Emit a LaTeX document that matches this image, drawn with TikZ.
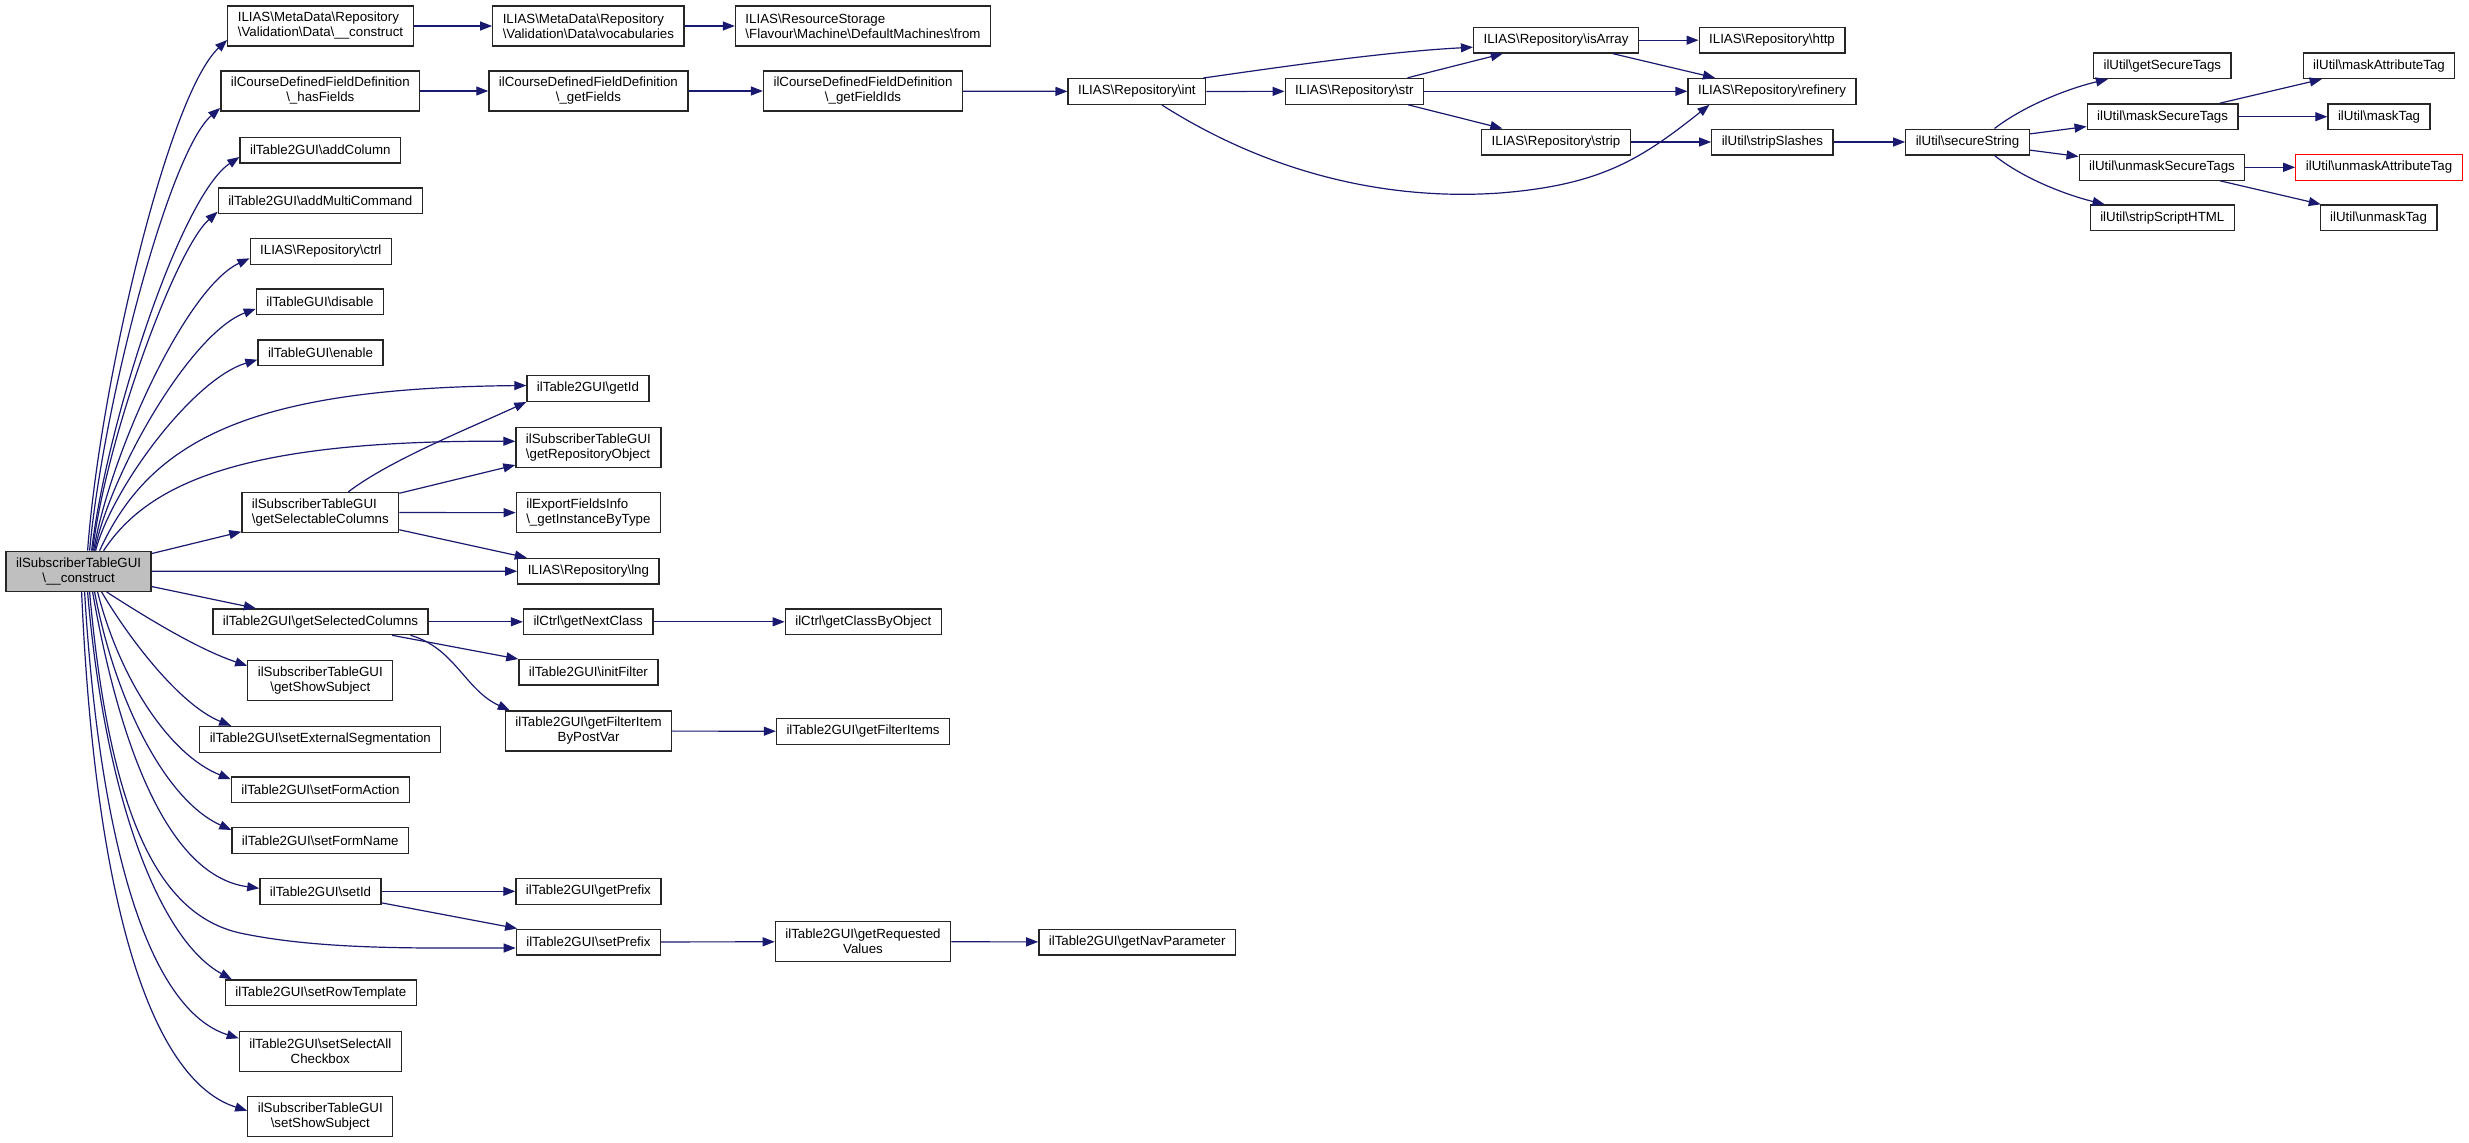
\documentclass[tikz,border=0pt]{standalone}
\usepackage{fontspec}
\setmainfont{Liberation Sans}
\usetikzlibrary{arrows.meta}
\definecolor{edgeblue}{RGB}{25,25,112}
\definecolor{rootgray}{RGB}{191,191,191}
\newcommand{\bsl}{\textbackslash}
\begin{document}
\begin{tikzpicture}[
  x=1pt, y=-1pt,
  fn/.style={rectangle, draw=black!85, line width=1.3pt, font=\fontsize{13.3}{15}\selectfont,
    inner xsep=10pt, inner ysep=2pt, minimum height=25.7pt},
  fnc/.style={fn, minimum height=40pt, align=center},
  fnl/.style={fn, minimum height=40pt, align=left},
  rootfn/.style={fnc, fill=rootgray},
  e/.style={draw=edgeblue, line width=1.2pt, -{Triangle[length=12pt,width=9pt]}}
]
\useasboundingbox (0,0) rectangle (2469,1143);
\fill[white] (0,0) rectangle (2469,1143);

% root
\node[rootfn] (root) at (78.6,571.3) {ilSubscriberTableGUI\\\bsl\_\_construct};

% first column
\node[fnl] (metaC) at (320.5,26) {ILIAS\bsl MetaData\bsl Repository\\\bsl Validation\bsl Data\bsl\_\_construct};
\node[fnc] (hasF) at (320.3,91) {ilCourseDefinedFieldDefinition\\\bsl\_hasFields};
\node[fn] (addCol) at (320.3,150) {ilTable2GUI\bsl addColumn};
\node[fn] (addMC) at (320.3,200.7) {ilTable2GUI\bsl addMultiCommand};
\node[fn] (ctrl) at (320.8,251.3) {ILIAS\bsl Repository\bsl ctrl};
\node[fn] (dis) at (320,301.8) {ilTableGUI\bsl disable};
\node[fn] (en) at (320.5,352.7) {ilTableGUI\bsl enable};
\node[fnl] (sel) at (320.3,512.5) {ilSubscriberTableGUI\\\bsl getSelectableColumns};
\node[fn] (selC) at (320.5,621.8) {ilTable2GUI\bsl getSelectedColumns};
\node[fnc] (showS) at (320.3,680.7) {ilSubscriberTableGUI\\\bsl getShowSubject};
\node[fn] (extSeg) at (320.3,739.3) {ilTable2GUI\bsl setExternalSegmentation};
\node[fn] (formA) at (320.5,789.7) {ilTable2GUI\bsl setFormAction};
\node[fn] (formN) at (320.3,840.5) {ilTable2GUI\bsl setFormName};
\node[fn] (setId) at (320.5,891.3) {ilTable2GUI\bsl setId};
\node[fn] (rowT) at (320.8,992.8) {ilTable2GUI\bsl setRowTemplate};
\node[fnc] (selAll) at (320.3,1051.3) {ilTable2GUI\bsl setSelectAll\\Checkbox};
\node[fnc] (setShow) at (320.3,1116.7) {ilSubscriberTableGUI\\\bsl setShowSubject};

% second column
\node[fnl] (metaV) at (588.4,26) {ILIAS\bsl MetaData\bsl Repository\\\bsl Validation\bsl Data\bsl vocabularies};
\node[fnc] (getF) at (588.4,91) {ilCourseDefinedFieldDefinition\\\bsl\_getFields};
\node[fn] (getId) at (588,388.5) {ilTable2GUI\bsl getId};
\node[fnl] (repo) at (588.4,447.3) {ilSubscriberTableGUI\\\bsl getRepositoryObject};
\node[fnl] (inst) at (588.4,512.7) {ilExportFieldsInfo\\\bsl\_getInstanceByType};
\node[fn] (lng) at (588.4,571.2) {ILIAS\bsl Repository\bsl lng};
\node[fn] (nextC) at (588.2,621.8) {ilCtrl\bsl getNextClass};
\node[fn] (initF) at (588.4,672.2) {ilTable2GUI\bsl initFilter};
\node[fnc] (fip) at (588.6,731) {ilTable2GUI\bsl getFilterItem\\ByPostVar};
\node[fn] (getPre) at (588.4,891.3) {ilTable2GUI\bsl getPrefix};
\node[fn] (setPre) at (588.4,942) {ilTable2GUI\bsl setPrefix};

% third column
\node[fnl] (from) at (863,26) {ILIAS\bsl ResourceStorage\\\bsl Flavour\bsl Machine\bsl DefaultMachines\bsl from};
\node[fnc] (getFI) at (863,91) {ilCourseDefinedFieldDefinition\\\bsl\_getFieldIds};
\node[fn] (classBO) at (863.3,621.8) {ilCtrl\bsl getClassByObject};
\node[fn] (fItems) at (863,731.3) {ilTable2GUI\bsl getFilterItems};
\node[fnc] (reqV) at (863,941.7) {ilTable2GUI\bsl getRequested\\Values};

% repository chain
\node[fn] (int) at (1136.9,91.5) {ILIAS\bsl Repository\bsl int};
\node[fn] (navP) at (1137.2,942) {ilTable2GUI\bsl getNavParameter};
\node[fn] (str) at (1354.3,91.3) {ILIAS\bsl Repository\bsl str};
\node[fn] (isArray) at (1556,40.2) {ILIAS\bsl Repository\bsl isArray};
\node[fn] (strip) at (1556,142) {ILIAS\bsl Repository\bsl strip};
\node[fn] (http) at (1772,40.2) {ILIAS\bsl Repository\bsl http};
\node[fn] (refinery) at (1772,91.3) {ILIAS\bsl Repository\bsl refinery};
\node[fn] (slashes) at (1772.4,142) {ilUtil\bsl stripSlashes};
\node[fn] (secure) at (1967.5,142) {ilUtil\bsl secureString};

% ilUtil
\node[fn] (getST) at (2162.3,65.7) {ilUtil\bsl getSecureTags};
\node[fn] (maskST) at (2162.6,116.7) {ilUtil\bsl maskSecureTags};
\node[fn] (unmaskST) at (2162,167.3) {ilUtil\bsl unmaskSecureTags};
\node[fn] (stripSH) at (2162.3,217.8) {ilUtil\bsl stripScriptHTML};
\node[fn] (maskAT) at (2379,65.7) {ilUtil\bsl maskAttributeTag};
\node[fn] (maskT) at (2379,116.7) {ilUtil\bsl maskTag};
\node[fn, draw=red] (unmaskAT) at (2379,167.3) {ilUtil\bsl unmaskAttributeTag};
\node[fn] (unmaskT) at (2378.6,217.8) {ilUtil\bsl unmaskTag};

% fan out of the root, upper half
\draw[e] ([xshift=9pt]root.north) .. controls (100,384) and (168,95) .. ([yshift=-14pt]metaC.west);
\draw[e] ([xshift=11pt]root.north) .. controls (103,405) and (169,152) .. ([yshift=-17pt]hasF.west);
\draw[e] ([xshift=13pt]root.north) .. controls (107,421) and (181,196) .. ([yshift=-7pt]addCol.west);
\draw[e] ([xshift=14pt]root.north) .. controls (106,439) and (175,250) .. ([yshift=-11pt]addMC.west);
\draw[e] ([xshift=15pt]root.north) .. controls (110,454) and (186,288) .. ([yshift=-7pt]ctrl.west);
\draw[e] ([xshift=16pt]root.north) .. controls (111,471) and (191,333) .. ([yshift=-7pt]dis.west);
\draw[e] ([xshift=17pt]root.north) .. controls (112,488) and (193,379) .. ([yshift=-7pt]en.west);
\draw[e] ([xshift=21pt]root.north) .. controls (150,440) and (250,388) .. ([yshift=3pt]getId.west);
\draw[e] ([xshift=25pt]root.north) .. controls (150,480) and (250,440) .. ([yshift=6pt]repo.west);

% fan out of the root, middle
\draw[e] (root) -- (sel);
\draw[e] (root) -- (lng);
\draw[e] (root) -- (selC);

% fan out of the root, lower half
\draw[e] ([xshift=28pt]root.south) .. controls (150,620) and (200,650) .. ([yshift=15pt]showS.west);
\draw[e] ([xshift=23pt]root.south) .. controls (130,640) and (180,705) .. ([xshift=32pt]extSeg.north west);
\draw[e] ([xshift=19pt]root.south) .. controls (120,680) and (170,755) .. ([yshift=-3pt]formA.north west);
\draw[e] ([xshift=16pt]root.south) .. controls (115,700) and (165,800) .. ([yshift=-3pt]formN.north west);
\draw[e] ([xshift=14pt]root.south) .. controls (115,720) and (160,875) .. ([yshift=3pt]setId.west);
\draw[e] ([xshift=11pt]root.south) .. controls (110,820) and (160,915) .. (240,933)
  .. controls (320,950) and (420,948) .. ([yshift=-6pt]setPre.west);
\draw[e] ([xshift=9pt]root.south) .. controls (105,800) and (160,940) .. ([xshift=7pt]rowT.north west);
\draw[e] ([xshift=6pt]root.south) .. controls (100,850) and (150,1010) .. ([yshift=13pt]selAll.west);
\draw[e] ([xshift=3pt]root.south) .. controls (95,900) and (150,1080) .. ([yshift=6pt]setShow.west);

% upper chains
\draw[e] (metaC) -- (metaV);
\draw[e] (metaV) -- (from);
\draw[e] (hasF) -- (getF);
\draw[e] (getF) -- (getFI);
\draw[e] (getFI) -- (int);
\draw[e] (int) -- (str);
\draw[e] ([xshift=-3pt]int.north east) .. controls (1260,70) and (1380,52) .. ([yshift=-7pt]isArray.west);
\draw[e] ([xshift=25pt]int.south) .. controls (1280,180) and (1400,200) .. (1500,193)
  .. controls (1600,185) and (1640,160) .. ([xshift=22pt]refinery.south west);
\draw[e] (str) -- (isArray);
\draw[e] (str) -- (refinery);
\draw[e] (str) -- (strip);
\draw[e] (isArray) -- (http);
\draw[e] (isArray) -- (refinery);
\draw[e] (strip) -- (slashes);
\draw[e] (slashes) -- (secure);
\draw[e] ([xshift=27pt]secure.north) .. controls (2025,105) and (2070,88) .. ([xshift=15pt]getST.south west);
\draw[e] (secure) -- (maskST);
\draw[e] (secure) -- (unmaskST);
\draw[e] ([xshift=27pt]secure.south) .. controls (2025,180) and (2070,196) .. ([xshift=15pt]stripSH.north west);
\draw[e] (maskST) -- (maskAT);
\draw[e] (maskST) -- (maskT);
\draw[e] (unmaskST) -- (unmaskAT);
\draw[e] (unmaskST) -- (unmaskT);

% selectable / selected columns
\draw[e] ([xshift=28pt]sel.north) .. controls (390,460) and (470,428) .. (getId.south west);
\draw[e] (sel) -- (repo);
\draw[e] (sel) -- (inst);
\draw[e] (sel) -- (lng);
\draw[e] (selC) -- (nextC);
\draw[e] (selC) -- (initF);
\draw[e] ([xshift=90pt]selC.south) .. controls (455,648) and (465,690) .. ([xshift=5pt]fip.north west);
\draw[e] (nextC) -- (classBO);
\draw[e] (fip) -- (fItems);

% prefix chain
\draw[e] (setId) -- (getPre);
\draw[e] (setId) -- (setPre);
\draw[e] (setPre) -- (reqV);
\draw[e] (reqV) -- (navP);
\end{tikzpicture}
\end{document}
